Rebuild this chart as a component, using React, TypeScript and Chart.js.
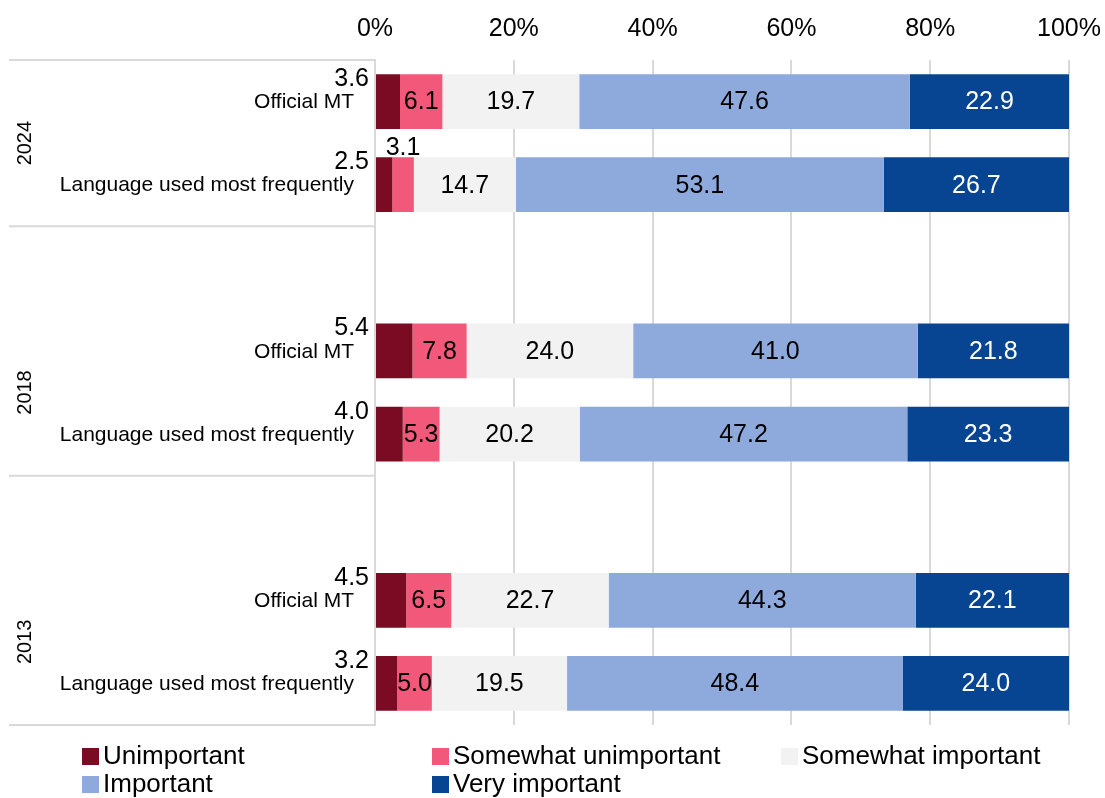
import React, { useEffect, useRef } from "react";
import { Chart, registerables } from "chart.js";

Chart.register(...registerables);

const categories = [
  "Official MT",
  "Language used most frequently",
  "",
  "Official MT",
  "Language used most frequently",
  "",
  "Official MT",
  "Language used most frequently",
];
const years = ["2024", "2018", "2013"];
// rows (index in categories) spanned by each year label, and group separator rows
const yearRows = [[0, 1], [3, 4], [6, 7]];
const separatorRows = [0, 2, 5, 8]; // boundary before row index

const seriesNames = ["Unimportant", "Somewhat unimportant", "Somewhat important", "Important", "Very important"];
const seriesColors = ["#7b0b23", "#f2587a", "#f2f2f2", "#8eaadc", "#074592"];
const labelColors = ["#000", "#000", "#000", "#000", "#fff"];

const unimportant = [3.6, 2.5, null, 5.4, 4.0, null, 4.5, 3.2];
const somewhatUnimportant = [6.1, 3.1, null, 7.8, 5.3, null, 6.5, 5.0];
const somewhatImportant = [19.7, 14.7, null, 24.0, 20.2, null, 22.7, 19.5];
const important = [47.6, 53.1, null, 41.0, 47.2, null, 44.3, 48.4];
const veryImportant = [22.9, 26.7, null, 21.8, 23.3, null, 22.1, 24.0];

const xTicks = [0, 20, 40, 60, 80, 100];

const FONT = "'Liberation Sans', Arial, sans-serif";

const rawSeries = [unimportant, somewhatUnimportant, somewhatImportant, important, veryImportant];

export default function App() {
  const ref = useRef<HTMLCanvasElement | null>(null);

  useEffect(() => {
    if (!ref.current) return;
    const totals = categories.map((_, i) =>
      rawSeries.reduce((s, arr) => s + (arr[i] ?? 0), 0)
    );
    const datasets = rawSeries.map((arr, k) => ({
      label: seriesNames[k],
      data: arr.map((v, i) => (v == null ? null : (v / totals[i]) * 100)),
      raw: arr,
      backgroundColor: seriesColors[k],
      borderWidth: 0,
      barPercentage: 0.66,
      categoryPercentage: 1,
    }));

    const overlay = {
      id: "overlay",
      afterDraw(chart: any) {
        const ctx = chart.ctx;
        const area = chart.chartArea;
        const yScale = chart.scales.y;
        const rowH = (area.bottom - area.top) / categories.length;
        ctx.save();
        // separators on label area
        ctx.strokeStyle = "#d9d9d9";
        ctx.lineWidth = 2;
        separatorRows.forEach((r) => {
          const y = area.top + r * rowH;
          ctx.beginPath();
          ctx.moveTo(9, y);
          ctx.lineTo(area.left, y);
          ctx.stroke();
        });
        // category labels
        ctx.fillStyle = "#000";
        ctx.font = `21px ${FONT}`;
        ctx.textAlign = "right";
        ctx.textBaseline = "middle";
        categories.forEach((c, i) => {
          if (!c) return;
          ctx.fillText(c, 354, yScale.getPixelForValue(i) + 1);
        });
        // year labels
        ctx.font = `20px ${FONT}`;
        ctx.textAlign = "center";
        years.forEach((yr, k) => {
          const [a, b] = yearRows[k];
          const yc = (yScale.getPixelForValue(a) + yScale.getPixelForValue(b)) / 2;
          ctx.save();
          ctx.translate(25, yc);
          ctx.rotate(-Math.PI / 2);
          ctx.fillText(yr, 0, 0);
          ctx.restore();
        });
        // data labels
        ctx.font = `25px ${FONT}`;
        chart.data.datasets.forEach((ds: any, k: number) => {
          const meta = chart.getDatasetMeta(k);
          meta.data.forEach((el: any, i: number) => {
            const v = ds.raw[i];
            if (v == null) return;
            const txt = v.toFixed(1);
            const left = Math.min(el.base, el.x);
            const right = Math.max(el.base, el.x);
            const w = right - left;
            const top = el.y - el.height / 2;
            const tw = ctx.measureText(txt).width;
            ctx.fillStyle = labelColors[k];
            if (k === 0) {
              ctx.textAlign = "right";
              ctx.textBaseline = "middle";
              ctx.fillText(txt, 369, top + 5);
            } else if (w < tw * 0.75) {
              ctx.textAlign = "center";
              ctx.textBaseline = "bottom";
              ctx.fillText(txt, (left + right) / 2, top + 3);
            } else {
              ctx.textAlign = "center";
              ctx.textBaseline = "middle";
              ctx.fillText(txt, (left + right) / 2, el.y + 1);
            }
          });
        });
        // legend
        const cols = [82, 432, 781];
        const rowsY = [756, 784];
        ctx.font = `26px ${FONT}`;
        ctx.textAlign = "left";
        ctx.textBaseline = "middle";
        seriesNames.forEach((n, k) => {
          const x = cols[k % 3];
          const y = rowsY[Math.floor(k / 3)];
          ctx.fillStyle = seriesColors[k];
          ctx.fillRect(x, y - 8, 17, 17);
          ctx.fillStyle = "#000";
          ctx.fillText(n, x + 21, y + 1);
        });
        ctx.restore();
      },
    };

    const chart = new Chart(ref.current, {
      type: "bar",
      data: { labels: categories, datasets: datasets as any },
      options: {
        indexAxis: "y",
        responsive: false,
        animation: false,
        layout: { padding: { left: 0, right: 36, top: 0, bottom: 73 } },
        plugins: { legend: { display: false }, tooltip: { enabled: false } },
        scales: {
          x: {
            position: "top",
            stacked: true,
            min: 0,
            max: 100,
            afterBuildTicks: (scale: any) => {
              scale.ticks = xTicks.map((v) => ({ value: v }));
            },
            afterFit: (scale: any) => {
              scale.height = 60;
              scale.paddingLeft = 0;
              scale.paddingRight = 0;
            },
            ticks: {
              callback: (v: any) => `${v}%`,
              color: "#000",
              font: { size: 25, family: FONT },
              padding: 16,
              maxRotation: 0,
              autoSkip: false,
            },
            grid: { color: "#d9d9d9", lineWidth: 2, drawTicks: false },
            border: { display: false },
          },
          y: {
            stacked: true,
            afterFit: (scale: any) => {
              scale.width = 375;
              scale.paddingTop = 0;
              scale.paddingBottom = 0;
            },
            ticks: { display: false },
            grid: { display: false, drawTicks: false },
            border: { display: true, color: "#d9d9d9", width: 2 },
          },
        },
      },
      plugins: [overlay],
    });
    return () => chart.destroy();
  }, []);

  return (
    <div style={{ position: "fixed", left: 0, top: 0, width: 1105, height: 798, background: "#fff" }}>
      <canvas ref={ref} width={1105} height={798} />
    </div>
  );
}
